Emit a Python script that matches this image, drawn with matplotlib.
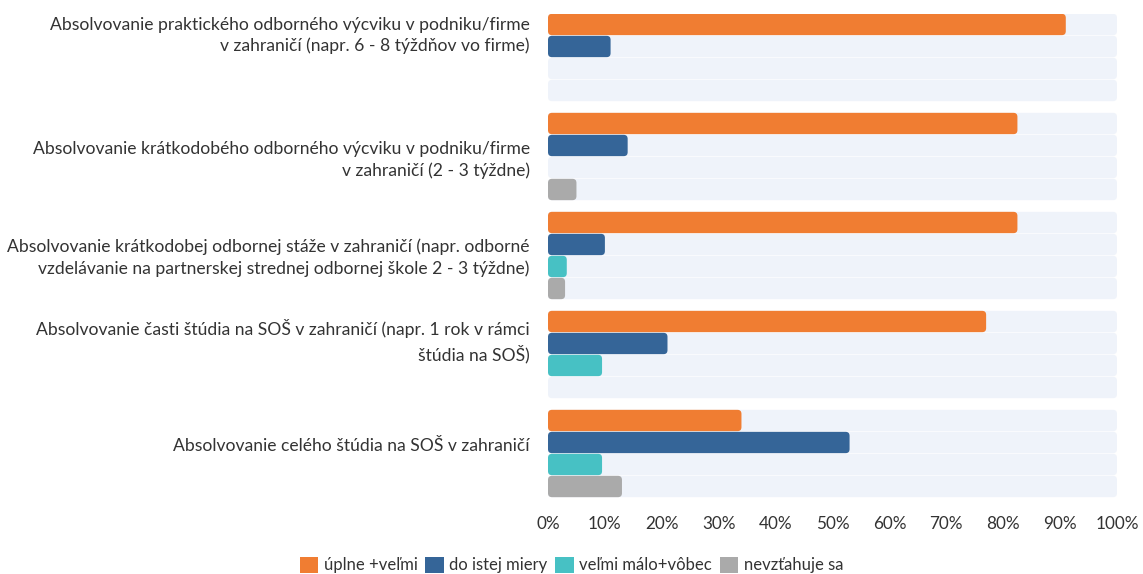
import matplotlib.pyplot as plt
from matplotlib.patches import FancyBboxPatch, Patch

plt.rcParams['font.family'] = ['Lato', 'DejaVu Sans']

categories = [
    'Absolvovanie praktického odborného výcviku v podniku/firme\nv zahraničí (napr. 6 - 8 týždňov vo firme)',
    'Absolvovanie krátkodobého odborného výcviku v podniku/firme\nv zahraničí (2 - 3 týždne)',
    'Absolvovanie krátkodobej odbornej stáže v zahraničí (napr. odborné\nvzdelávanie na partnerskej strednej odbornej škole 2 - 3 týždne)',
    'Absolvovanie časti štúdia na SOŠ v zahraničí (napr. 1 rok v rámci\nštúdia na SOŠ)',
    'Absolvovanie celého štúdia na SOŠ v zahraničí',
]
series_names = ['úplne +veľmi', 'do istej miery', 'veľmi málo+vôbec', 'nevzťahuje sa']
uplne = [91, 82.5, 82.5, 77, 34]
do_istej = [11, 14, 10, 21, 53]
malo = [0, 0, 3.3, 9.5, 9.5]
nevztahuje = [0, 5, 3, 0, 13]
values = [uplne, do_istej, malo, nevztahuje]
xticks = [0, 10, 20, 30, 40, 50, 60, 70, 80, 90, 100]
xticklabels = [f'{t}%' for t in xticks]

colors = ['#f07d32', '#356598', '#47c1c4', '#aaaaaa']
bg_color = '#eff3fa'
text_color = '#333333'

W, H = 1143, 574
fig = plt.figure(figsize=(W / 100, H / 100), dpi=100)
ax_left, ax_right = 548 / W, 1117 / W
ax_top, ax_bot = 1 - 13.5 / H, 1 - 497.5 / H
ax = fig.add_axes([ax_left, ax_bot, ax_right - ax_left, ax_top - ax_bot])

pitch = 4.5
bar_h = 0.97
ylim = (len(categories) - 1) * pitch + len(series_names) - 0.5
ax.set_xlim(0, 100)
ax.set_ylim(ylim, -0.5)

# rounded corners: aspect between y units and x units in pixels
px_x = 100 / (1117 - 548)
px_y = (ylim + 0.5) / (497.5 - 13.5)
aspect = px_y / px_x
rad = 4 * px_x


def rbar(x0, w, yc, color):
    if w <= 0:
        return
    r = min(rad, w / 2)
    p = FancyBboxPatch((x0, yc - bar_h / 2), w, bar_h,
                       boxstyle=f'round,pad=0,rounding_size={r}',
                       mutation_aspect=aspect, fc=color, ec='none', lw=0)
    ax.add_patch(p)


for g in range(len(categories)):
    for s in range(len(series_names)):
        yc = g * pitch + s
        rbar(0, 100, yc, bg_color)
        rbar(0, values[s][g], yc, colors[s])

label_shift = [-1.0, 0.15, 0.1, -0.6, -0.35]
for g, cat in enumerate(categories):
    yc = g * pitch + 1.5 + label_shift[g]
    ax.text(-3.2, yc, cat, ha='right', va='center', fontsize=12.6,
            color=text_color, linespacing=1.4)

ax.set_yticks([])
ax.set_xticks(xticks)
ax.set_xticklabels(xticklabels, fontsize=12.3, color=text_color)
ax.tick_params(axis='x', length=0, pad=13)
for sp in ax.spines.values():
    sp.set_visible(False)

handles = [Patch(facecolor=c, edgecolor='none') for c in colors]
fig.legend(handles, series_names, loc='center', bbox_to_anchor=(0.5, 1 - 565 / H),
           ncol=4, frameon=False, fontsize=12, handlelength=1.1, handleheight=1.1,
           handletextpad=0.35, columnspacing=0.45, labelcolor=text_color)

fig.savefig('out.png', dpi=100)
